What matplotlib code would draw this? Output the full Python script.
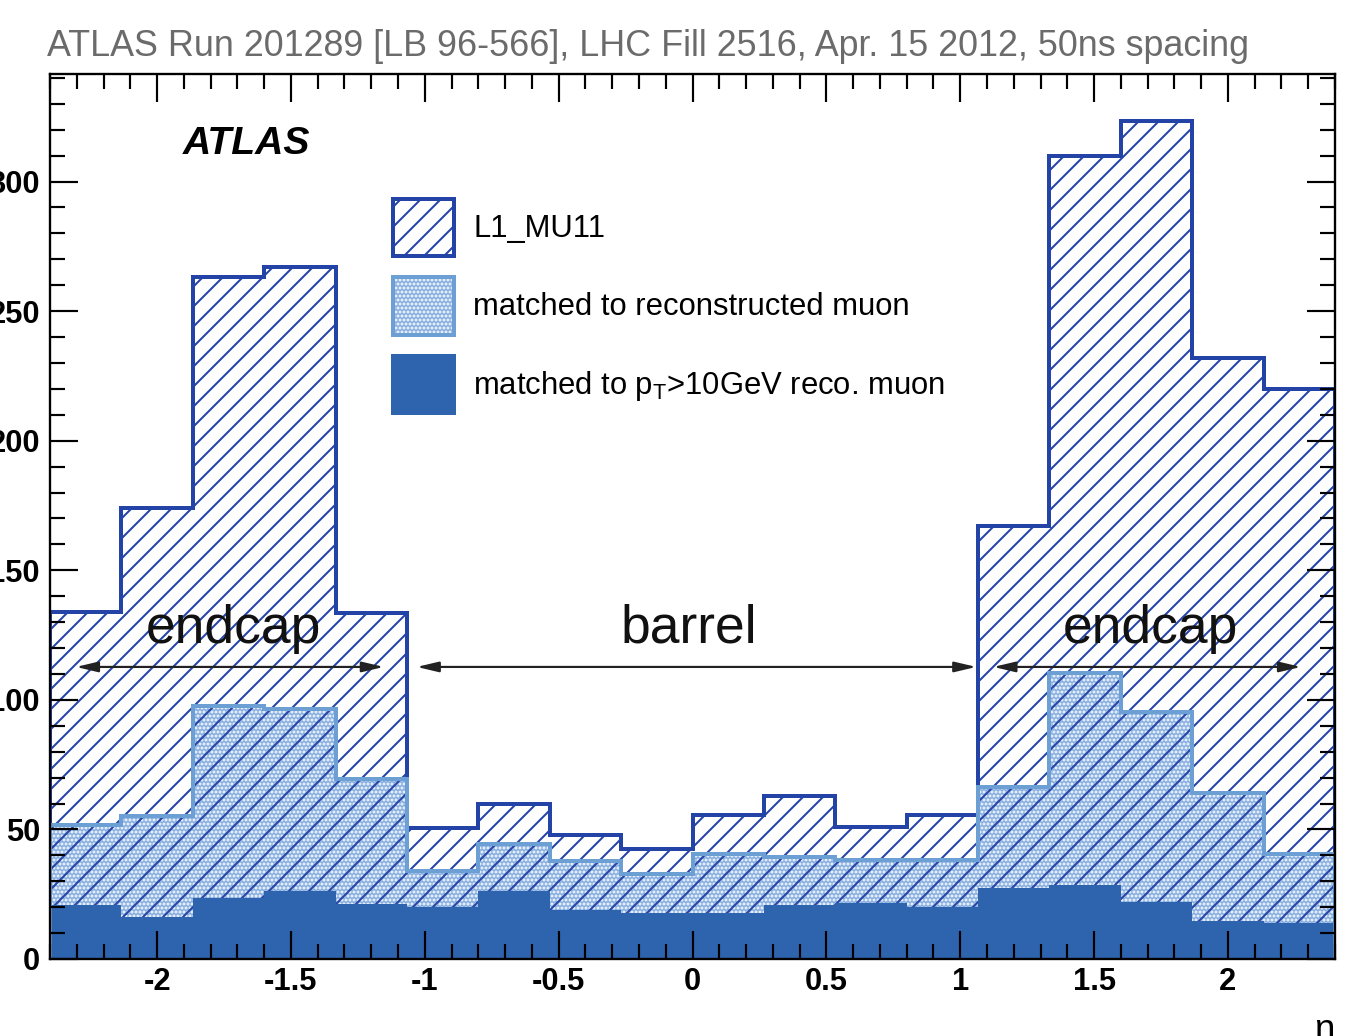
#!/usr/bin/env python3
# L1_MU11 trigger eta distribution, ATLAS run 201289 (stacked ROOT-style histograms).

import matplotlib
matplotlib.use("Agg")
import matplotlib.pyplot as plt
from matplotlib.patches import Patch
from matplotlib.ticker import MultipleLocator, FuncFormatter

# bin edges in eta (18 bins)
ETA_EDGES = [-2.4, -2.133, -1.867, -1.6, -1.333, -1.067, -0.8, -0.533, -0.267, 0.0,
             0.267, 0.533, 0.8, 1.067, 1.333, 1.6, 1.867, 2.133, 2.4]

# counts per bin
L1_MU11 = [134, 174, 263, 267, 133.5, 50.5, 60, 48, 42.4, 55.5,
           62.8, 50.8, 55.5, 167, 310, 323.5, 232, 220]
MATCHED_RECO = [51.7, 55.2, 97.7, 96.4, 69.4, 34.1, 44.3, 37.8, 32.8, 40.5,
                39.3, 38.2, 38.2, 66.5, 110.3, 95.5, 64, 40.5]
MATCHED_PT10 = [20.8, 16.3, 23.4, 26.4, 21.2, 20.2, 26.4, 18.9, 17.6, 17.6,
                20.8, 21.7, 20.2, 27.3, 28.6, 22.1, 14.8, 13.8]

LABELS = ["L1_MU11", "matched to reconstructed muon", r"matched to p$_{\mathregular{T}}$>10GeV reco. muon"]
TITLE = "ATLAS Run 201289 [LB 96-566], LHC Fill 2516, Apr. 15 2012, 50ns spacing"

# region annotations: (label, x_text, arrow_from, arrow_to)
REGIONS = [
    ("endcap", -1.715, -2.303, -1.153),
    ("barrel", -0.015, -1.03, 1.06),
    ("endcap", 1.71, 1.124, 2.273),
]

DARK = "#2343a6"
LIGHT = "#6c9fd3"
DOT_BG = "#86ade0"
SOLID = "#2e63ae"

DPI = 120
plt.rcParams["font.family"] = ["Liberation Sans", "DejaVu Sans"]
plt.rcParams["hatch.linewidth"] = 1.2

fig = plt.figure(figsize=(1354 / DPI, 1036 / DPI), dpi=DPI)
ax = fig.add_axes([50 / 1354, 1 - 959 / 1036, 1285 / 1354, 885 / 1036])

# dotted layer first (white dots on light blue), then the hatch over it,
# solid on top, outlines last
ax.stairs(MATCHED_RECO, ETA_EDGES, fill=True, facecolor=DOT_BG, edgecolor="white",
          hatch=".....", linewidth=0, zorder=1)
ax.stairs(L1_MU11, ETA_EDGES, fill=True, facecolor="none", edgecolor=DARK,
          hatch="//", linewidth=0, zorder=1.1)
ax.stairs(MATCHED_PT10, ETA_EDGES, fill=True, facecolor=SOLID, edgecolor=SOLID,
          linewidth=0, zorder=1.2)
ax.stairs(L1_MU11, ETA_EDGES, color=DARK, linewidth=2.4, zorder=1.3)
ax.stairs(MATCHED_RECO, ETA_EDGES, color=LIGHT, linewidth=2.4, zorder=1.4)

ax.set_xlim(-2.4, 2.4)
ax.set_ylim(0, 341.5)

ax.xaxis.set_major_locator(MultipleLocator(0.5))
ax.xaxis.set_minor_locator(MultipleLocator(0.1))
ax.yaxis.set_major_locator(MultipleLocator(50))
ax.yaxis.set_minor_locator(MultipleLocator(10))
ax.tick_params(which="both", direction="in", top=True, right=True, width=1.3, colors="black")
ax.tick_params(which="major", length=17)
ax.tick_params(which="minor", length=9)
ax.tick_params(axis="x", which="major", pad=5, labelsize=18.5)
ax.tick_params(axis="y", which="major", pad=6, labelsize=18.5)
ax.xaxis.set_major_formatter(FuncFormatter(lambda v, p: f"{v:g}"))
for lab in ax.get_xticklabels() + ax.get_yticklabels():
    lab.set_fontweight("bold")
for sp in ax.spines.values():
    sp.set_linewidth(1.4)

for name, xt, x0, x1 in REGIONS:
    ax.text(xt, 127.5, name, fontsize=32, ha="center", va="center", color="#111111", zorder=5)
    ax.annotate("", xy=(x1, 112.7), xytext=(x0, 112.7),
                arrowprops=dict(arrowstyle="<|-|>,head_length=1.1,head_width=0.26",
                                color="#222222", lw=1.3, shrinkA=0, shrinkB=0),
                zorder=5)

ax.text(0.1035, 0.921, "ATLAS", transform=ax.transAxes, fontsize=23.5,
        fontweight="bold", fontstyle="italic", ha="left", va="center", zorder=5)

handles = [
    Patch(facecolor="white", edgecolor=DARK, hatch="//", linewidth=2.4),
    Patch(facecolor=DOT_BG, edgecolor="white", hatch=".....", linewidth=0),
    Patch(facecolor=SOLID, edgecolor=SOLID, linewidth=2.4),
]
leg = ax.legend(handles, LABELS, loc="upper left", bbox_to_anchor=(0.267, 0.859),
                frameon=False, fontsize=18.6, handlelength=1.97, handleheight=2.47,
                labelspacing=0.68, handletextpad=0.62, borderpad=0, borderaxespad=0)
# light blue border around the dotted legend box, drawn on top of its dots
dot_handle = leg.legend_handles[1]
ax.figure.canvas.draw()
bb = dot_handle.get_window_extent()
frame = plt.Rectangle((bb.x0, bb.y0), bb.width, bb.height, transform=None,
                      fill=False, edgecolor=LIGHT, linewidth=2.4, zorder=6)
fig.add_artist(frame)

fig.text(47 / 1354, 1 - 47 / 1036, TITLE, fontsize=21.5, color="#6b6b6b",
         ha="left", va="center")
fig.text(1314 / 1354, 1 - 1040 / 1036, "η", fontsize=22, ha="left", va="baseline")

fig.savefig("out.png", dpi=DPI)
